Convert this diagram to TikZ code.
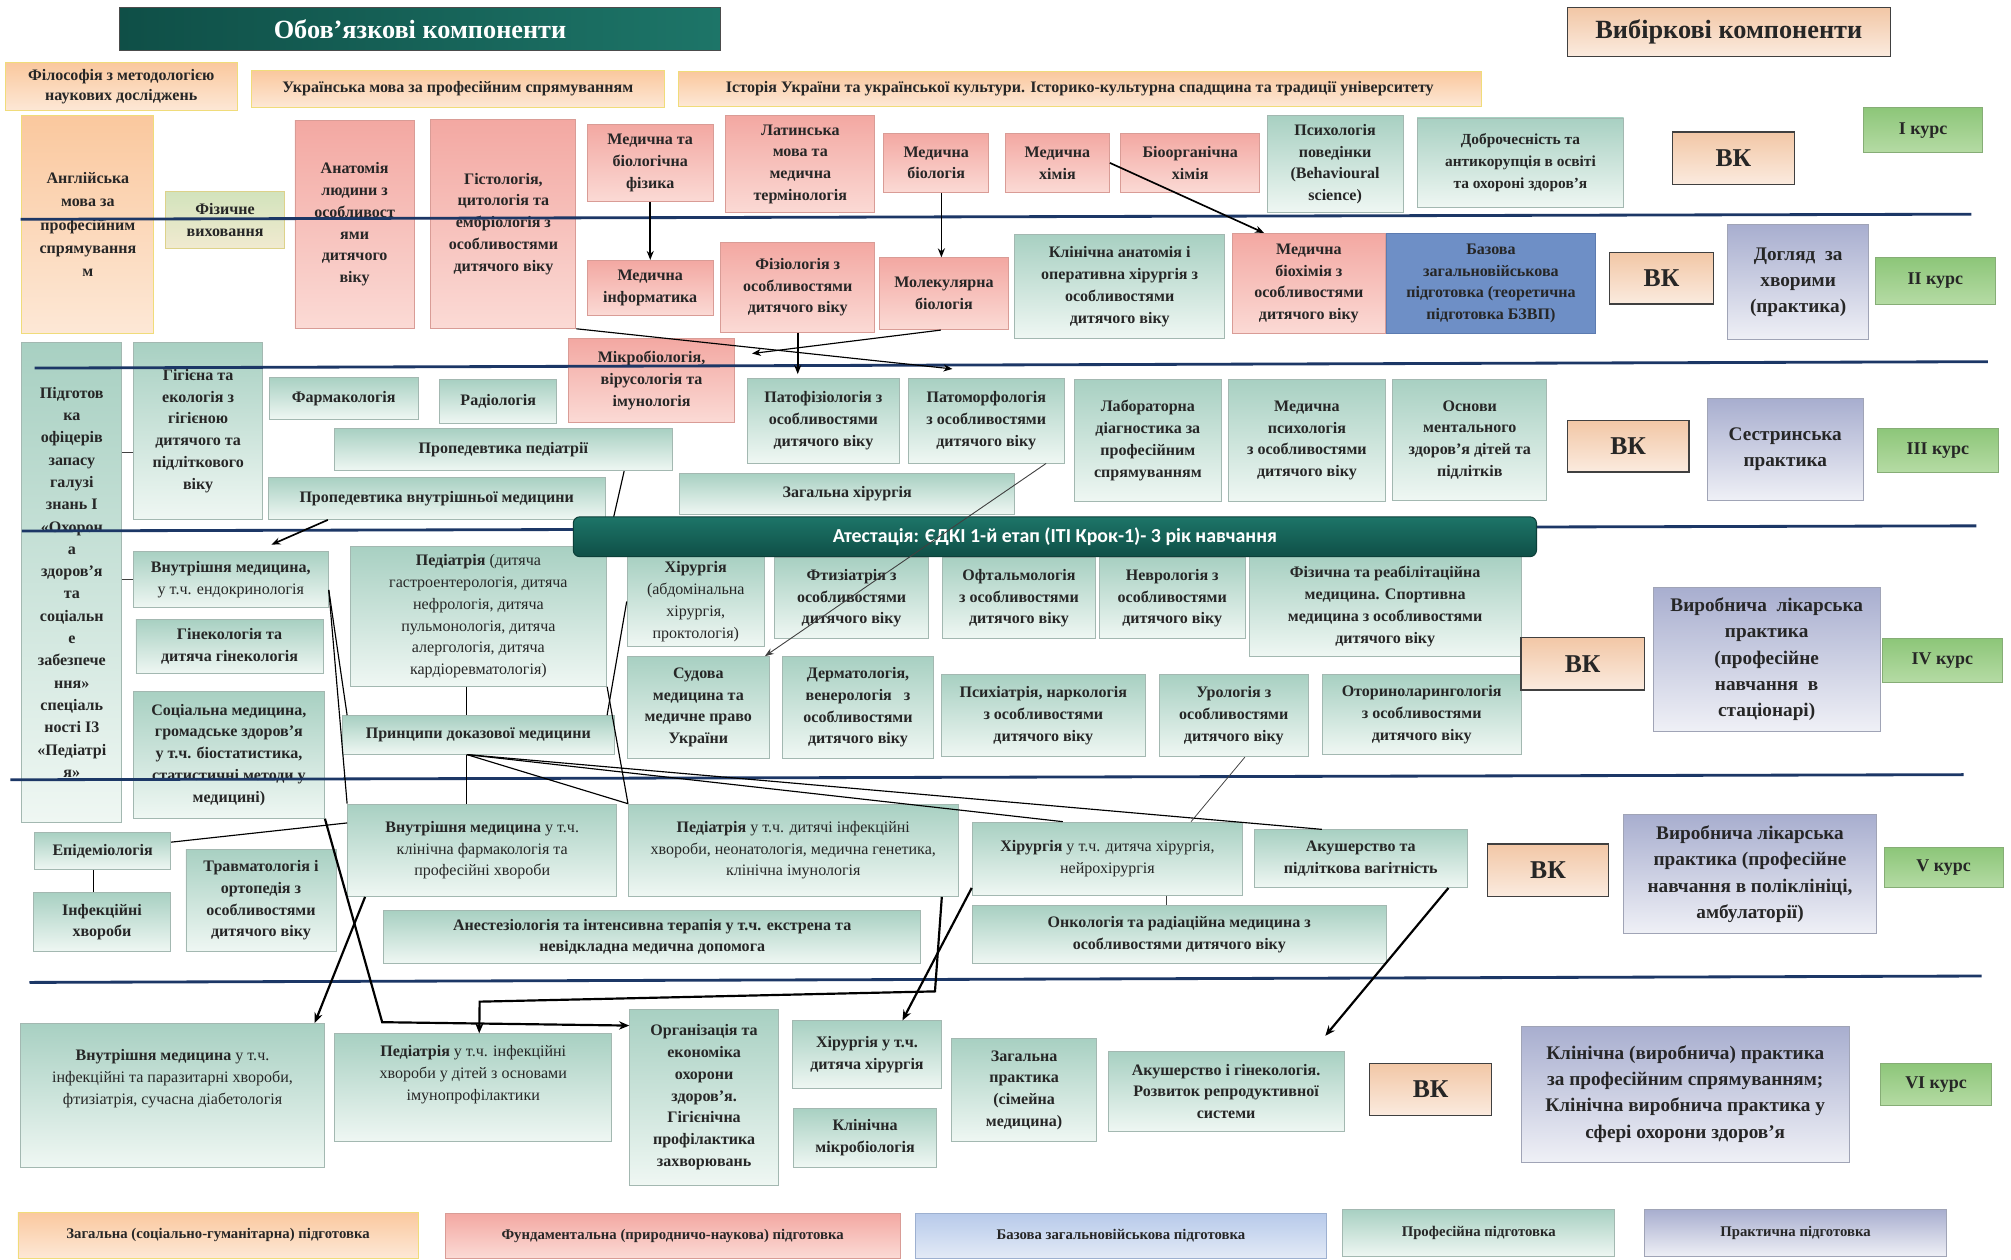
\documentclass[tikz,border=0pt]{standalone}
\usepackage{fontspec}
\setmainfont{Liberation Serif}
\newfontfamily\banfont{Carlito}
\usetikzlibrary{arrows.meta,calc}
\definecolor{txt}{HTML}{262626}
\definecolor{orT}{HTML}{FAC89E}
\definecolor{orB}{HTML}{FDE8D6}
\definecolor{orD}{HTML}{F0DC7A}
\definecolor{pkT}{HTML}{F3A8A2}
\definecolor{pkB}{HTML}{FBDAD5}
\definecolor{pkD}{HTML}{D99C96}
\definecolor{tlT}{HTML}{A8D0C2}
\definecolor{tlB}{HTML}{EFF7F3}
\definecolor{tlD}{HTML}{A3B8B1}
\definecolor{blM}{HTML}{6E8FC6}
\definecolor{blD}{HTML}{5C7BB0}
\definecolor{blT}{HTML}{B7CAEA}
\definecolor{blB}{HTML}{E3EAF6}
\definecolor{lvT}{HTML}{A8AECF}
\definecolor{lvB}{HTML}{EFF0F6}
\definecolor{lvD}{HTML}{A0A4B6}
\definecolor{grT}{HTML}{8DC679}
\definecolor{grB}{HTML}{B5DBA4}
\definecolor{grD}{HTML}{86AD76}
\definecolor{vkT}{HTML}{F2C7A6}
\definecolor{vkB}{HTML}{FBEBDF}
\definecolor{fzT}{HTML}{D2E3BC}
\definecolor{fzB}{HTML}{F1EAD0}
\definecolor{fzD}{HTML}{DDD28A}
\definecolor{tealL}{HTML}{0F4F47}
\definecolor{tealR}{HTML}{1D7568}
\definecolor{navy}{HTML}{1C3766}
\begin{document}
\begin{tikzpicture}[x=1pt,y=-1pt,
  bx/.style={draw, line width=0.7pt, align=center, inner sep=1pt, text=txt,
    font=\bfseries\fontsize{12.5}{17}\selectfont},
  md/.style={font=\mdseries\fontsize{12.5}{17}\selectfont},
  gen/.style={bx, top color=orT, bottom color=orB, draw=orD},
  fund/.style={bx, top color=pkT, bottom color=pkB, draw=pkD},
  prof/.style={bx, top color=tlT, bottom color=tlB, draw=tlD},
  mil/.style={bx, fill=blM, draw=blD},
  milL/.style={bx, top color=blT, bottom color=blB, draw=blD!60},
  prac/.style={bx, top color=lvT, bottom color=lvB, draw=lvD, font=\bfseries\fontsize{15}{20.5}\selectfont},
  crs/.style={bx, top color=grT, bottom color=grB, draw=grD, font=\bfseries\fontsize{14}{17}\selectfont},
  vkbox/.style={bx, top color=vkT, bottom color=vkB, draw=black!75, line width=1pt, font=\bfseries\fontsize{20}{24}\selectfont},
  fzbox/.style={bx, top color=fzT, bottom color=fzB, draw=fzD},
  lgd/.style={font=\bfseries\fontsize{11.5}{14}\selectfont},
  geom/.style n args={4}{minimum width={(#3-#1)*1pt}, minimum height={(#4-#2)*1pt},
    at={({(#1+#3)/2},{(#2+#4)/2})}},
  ln/.style={draw=black, line width=0.9pt},
  arr/.style={draw=black, line width=1.3pt, -{Stealth[length=7pt,width=5.5pt]}},
  arrthin/.style={draw=black, line width=0.9pt, -{Stealth[length=7pt,width=5.5pt]}},
  tharr/.style={draw=black, line width=1.7pt, -{Stealth[length=8pt,width=6.5pt]}},
  thn/.style={draw=black!75, line width=0.6pt},
  thnarr/.style={draw=black!75, line width=0.7pt, -{Stealth[length=7pt,width=5pt]}},
  yearline/.style={draw=navy, line width=2.2pt}
]
\fill[white] (0,0) rectangle (1568,982);
\useasboundingbox (0,0) rectangle (1568,982);

% ---- header
\node[bx, left color=tealL, right color=tealR, draw=black!70, text=white,
  font=\bfseries\fontsize{20.5}{23}\selectfont, geom={93}{6}{562}{39}] (ttl) {Обов’язкові компоненти};
\node[vkbox, geom={1222}{6}{1474}{44}, line width=0.8pt, font=\bfseries\fontsize{20.5}{23}\selectfont] (sel) {Вибіркові компоненти};

% ---- row 0
\node[gen, geom={4}{49}{185}{86}, font=\bfseries\fontsize{12.5}{15}\selectfont] (phil) {Філософія з методологією\\наукових досліджень};
\node[gen, geom={196}{55}{518}{84}] (ukr) {Українська мова за професійним спрямуванням};
\node[gen, geom={529}{56}{1155}{83}] (histu) {Історія України та української культури. Історико-культурна спадщина та традиції університету};

% ---- course I
\node[gen, geom={17}{90}{120}{260}, font=\bfseries\fontsize{12.5}{18}\selectfont] (eng) {Англійська\\мова за\\професійним\\спрямування\\м};
\node[fzbox, geom={129}{149}{222}{194}] (phys) {Фізичне\\виховання};
\node[fund, geom={230}{94}{323}{256}] (anat) {Анатомія\\людини з\\особливост\\ями\\дитячого\\віку};
\node[fund, geom={336}{93}{449}{256}] (histol) {Гістологія,\\цитологія та\\ембріологія з\\особливостями\\дитячого віку};
\node[fund, geom={458}{97}{556}{157}] (mbf) {Медична та\\біологічна\\фізика};
\node[fund, geom={566}{90}{682}{166}] (lat) {Латинська\\мова та\\медична\\термінологія};
\node[fund, geom={689}{104}{771}{150}] (mbio) {Медична\\біологія};
\node[fund, geom={784}{104}{865}{150}] (mchem) {Медична\\хімія};
\node[fund, geom={874}{104}{982}{150}] (bioorg) {Біоорганічна\\хімія};
\node[prof, geom={988}{90}{1094}{166}] (psy) {Психологія\\поведінки\\(Behavioural\\science)};
\node[prof, geom={1105}{92}{1266}{162}, font=\bfseries\fontsize{12}{17}\selectfont] (integ) {Доброчесність та\\антикорупція в освіті\\та охороні здоров'я};
\node[vkbox, geom={1304}{103}{1399}{144}] (vk1) {ВК};
\node[crs, geom={1453}{84}{1546}{119}] (k1) {І курс};

% ---- course II
\node[fund, geom={458}{203}{556}{246}] (minf) {Медична\\інформатика};
\node[fund, geom={562}{189}{682}{259}] (fiz) {Фізіологія з\\особливостями\\дитячого віку};
\node[fund, geom={686}{201}{786}{257}] (molb) {Молекулярна\\біологія};
\node[prof, geom={791}{183}{955}{264}] (klan) {Клінічна анатомія і\\оперативна хірургія з\\особливостями\\дитячого віку};
\node[fund, geom={961}{182}{1080}{260}] (mbch) {Медична\\біохімія з\\особливостями\\дитячого віку};
\node[mil, geom={1081}{182}{1244}{260}] (bzvp) {Базова\\загальновійськова\\підготовка (теоретична\\підготовка БЗВП)};
\node[vkbox, geom={1255}{197}{1336}{237}] (vk2) {ВК};
\node[prac, geom={1347}{175}{1457}{265}] (dogl) {Догляд~~за\\хворими\\(практика)};
\node[crs, geom={1462}{201}{1556}{237}] (k2) {ІІ курс};

% ---- course III
\node[prof, geom={17}{267}{95}{641}, font=\bfseries\fontsize{12.5}{17.4}\selectfont] (ofic) {Підготов\\ка\\офіцерів\\запасу\\галузі\\знань І\\«Охорон\\а\\здоров'я\\та\\соціальн\\е\\забезпече\\ння»\\спеціаль\\ності І3\\«Педіатрі\\я»};
\node[prof, geom={104}{267}{205}{405}] (hyg) {Гігієна та\\екологія з\\гігієною\\дитячого та\\підліткового\\віку};
\node[prof, geom={210}{294}{326}{327}] (pharm) {Фармакологія};
\node[prof, geom={343}{296}{434}{330}] (radio) {Радіологія};
\node[fund, geom={443}{264}{573}{329}] (micro) {Мікробіологія,\\вірусологія та\\імунологія};
\node[prof, geom={261}{334}{524}{367}] (propp) {Пропедевтика педіатрії};
\node[prof, geom={209}{372}{472}{405}] (propv) {Пропедевтика внутрішньої медицини};
\node[prof, geom={530}{369}{791}{401}] (gsurg) {Загальна хірургія};
\node[prof, geom={583}{295}{701}{361}] (patf) {Патофізіологія з\\особливостями\\дитячого віку};
\node[prof, geom={708}{295}{830}{361}] (patm) {Патоморфологія\\з особливостями\\дитячого віку};
\node[prof, geom={838}{296}{952}{391}] (lab) {Лабораторна\\діагностика за\\професійним\\спрямуванням};
\node[prof, geom={958}{296}{1080}{391}] (mpsy) {Медична\\психологія\\з особливостями\\дитячого віку};
\node[prof, geom={1086}{296}{1206}{390}] (ment) {Основи\\ментального\\здоров'я дітей та\\підлітків};
\node[vkbox, geom={1222}{328}{1317}{368}] (vk3) {ВК};
\node[prac, geom={1331}{311}{1453}{390}] (sest) {Сестринська\\практика};
\node[crs, geom={1464}{334}{1558}{368}] (k3) {ІІІ курс};

% ---- course IV
\node[prof, geom={104}{430}{256}{474}] (endo) {Внутрішня медицина,\\{\mdseries у т.ч. ендокринологія}};
\node[prof, geom={106}{483}{252}{525}] (gyn) {Гінекологія та\\дитяча гінекологія};
\node[prof, geom={104}{539}{253}{638}] (soc) {Соціальна медицина,\\громадське здоров'я\\у т.ч. біостатистика,\\статистичні методи у\\медицині)};
\node[prof, md, geom={273}{426}{473}{535}] (ped) {{\bfseries Педіатрія} (дитяча\\гастроентерологія, дитяча\\нефрологія, дитяча\\пульмонологія, дитяча\\алергологія, дитяча\\кардіоревматологія)};
\node[prof, md, geom={489}{434}{596}{504}] (surga) {{\bfseries Хірургія}\\(абдомінальна\\хірургія,\\проктологія)};
\node[prof, geom={604}{435}{724}{498}] (ftiz) {Фтизіатрія з\\особливостями\\дитячого віку};
\node[prof, geom={735}{435}{854}{498}] (oft) {Офтальмологія\\з особливостями\\дитячого віку};
\node[prof, geom={857}{435}{971}{498}] (nevr) {Неврологія з\\особливостями\\дитячого віку};
\node[prof, geom={974}{434}{1186}{512}] (fizr) {Фізична та реабілітаційна\\медицина. Спортивна\\медицина з особливостями\\дитячого віку};
\node[prof, geom={489}{512}{600}{591}] (sud) {Судова\\медицина та\\медичне право\\України};
\node[prof, geom={610}{512}{728}{591}] (derm) {Дерматологія,\\венерологія~~~з\\особливостями\\дитячого віку};
\node[prof, geom={734}{526}{893}{590}] (psych) {Психіатрія, наркологія\\з особливостями\\дитячого віку};
\node[prof, geom={904}{526}{1020}{590}] (uro) {Урологія з\\особливостями\\дитячого віку};
\node[prof, geom={1031}{526}{1186}{588}] (oto) {Оториноларингологія\\з особливостями\\дитячого віку};
\node[prof, geom={267}{558}{479}{588}] (princ) {Принципи доказової медицини};
\node[vkbox, geom={1186}{497}{1282}{538}] (vk4) {ВК};
\node[prac, geom={1289}{458}{1466}{570}] (vyr4) {Виробнича~~лікарська\\практика\\(професійне\\навчання~~в\\стаціонарі)};
\node[crs, geom={1468}{498}{1561}{532}] (k4) {IV курс};

% ---- course V
\node[prof, geom={27}{649}{133}{678}] (epi) {Епідеміологія};
\node[prof, geom={26}{696}{133}{742}] (inf) {Інфекційні\\хвороби};
\node[prof, geom={145}{662}{262}{742}] (trav) {Травматологія і\\ортопедія з\\особливостями\\дитячого віку};
\node[prof, md, geom={271}{627}{481}{699}] (vmv) {{\bfseries Внутрішня медицина} у т.ч.\\клінічна фармакологія та\\професійні хвороби};
\node[prof, md, geom={490}{627}{747}{699}] (pedv) {{\bfseries Педіатрія} у т.ч. дитячі інфекційні\\хвороби, неонатологія, медична генетика,\\клінічна імунологія};
\node[prof, md, geom={758}{641}{969}{698}] (surgv) {{\bfseries Хірургія} у т.ч. дитяча хірургія,\\нейрохірургія};
\node[prof, geom={978}{647}{1144}{692}] (akv) {Акушерство та\\підліткова вагітність};
\node[prof, geom={299}{710}{718}{751}] (anest) {Анестезіологія та інтенсивна терапія у т.ч. екстрена та\\невідкладна медична допомога};
\node[prof, geom={758}{706}{1081}{751}] (onco) {Онкологія та радіаційна медицина з\\особливостями дитячого віку};
\node[vkbox, geom={1160}{658}{1254}{699}] (vk5) {ВК};
\node[prac, geom={1266}{635}{1463}{728}] (vyr5) {Виробнича лікарська\\практика (професійне\\навчання в поліклініці,\\амбулаторії)};
\node[crs, geom={1469}{661}{1562}{692}] (k5) {V курс};

% ---- course VI
\node[prof, md, geom={16}{798}{253}{910}] (vmvi) {{\bfseries Внутрішня медицина} у т.ч.\\інфекційні та паразитарні хвороби,\\фтизіатрія, сучасна діабетологія\\[12pt]};
\node[prof, md, geom={261}{806}{477}{890}] (pedvi) {{\bfseries Педіатрія} у т.ч. інфекційні\\хвороби у дітей з основами\\імунопрофілактики\\[6pt]};
\node[prof, geom={491}{787}{607}{924}] (org) {Організація та\\економіка\\охорони\\здоров’я.\\Гігієнічна\\профілактика\\захворювань};
\node[prof, geom={618}{796}{734}{849}] (surgvi) {Хірургія у т.ч.\\дитяча хірургія};
\node[prof, geom={619}{864}{730}{910}] (kmik) {Клінічна\\мікробіологія};
\node[prof, geom={742}{810}{855}{890}] (gp) {Загальна\\практика\\(сімейна\\медицина)};
\node[prof, geom={864}{820}{1048}{882}] (akvi) {Акушерство і гінекологія.\\Розвиток репродуктивної\\системи};
\node[vkbox, geom={1068}{829}{1163}{870}] (vk6) {ВК};
\node[prac, geom={1186}{800}{1442}{906}] (klp) {Клінічна (виробнича) практика\\за професійним спрямуванням;\\Клінічна виробнича практика у\\сфері охорони здоров’я};
\node[crs, geom={1466}{829}{1553}{862}] (k6) {VI курс};

% ---- legend
\node[gen, lgd, geom={14}{945}{326}{981}] (lg1) {Загальна (соціально-гуманітарна) підготовка};
\node[fund, lgd, geom={347}{946}{702}{981}] (lg2) {Фундаментальна (природничо-наукова) підготовка};
\node[milL, lgd, geom={714}{946}{1034}{981}] (lg3) {Базова загальновійськова підготовка};
\node[prof, lgd, geom={1047}{943}{1259}{980}] (lg4) {Професійна підготовка};
\node[prac, lgd, geom={1282}{943}{1518}{980}] (lg5) {Практична підготовка};

% ---- year separator lines
\coordinate (l1a) at (16,171);  \coordinate (l1b) at (1537,167);
\coordinate (l2a) at (27,287);  \coordinate (l2b) at (1550,282);
\coordinate (l3a) at (17,414);  \coordinate (l3b) at (1541,410);
\coordinate (l4a) at (8,608);   \coordinate (l4b) at (1531,604);
\coordinate (l5a) at (23,766);  \coordinate (l5b) at (1545,761);
\draw[yearline] (l1a) -- (l1b);
\draw[yearline] (l2a) -- (l2b);
\draw[yearline] (l3a) -- (l3b);
\draw[yearline] (l4a) -- (l4b);
\draw[yearline] (l5a) -- (l5b);

% connector hidden partly by the banner
\draw[ln] ([xshift=226pt]propp.south west) -- (ped.north east);

% ---- attestation banner
\node[draw=tealL!80!black, line width=0.8pt, rounded corners=5pt, top color=tealR, bottom color=tealL,
  text=white, font=\banfont\bfseries\fontsize{15.5}{18}\selectfont, geom={447}{403}{1198}{434}] (ban)
  {Атестація: ЄДКІ 1-й етап (ІТІ Крок-1)- 3 рік навчання};

% ---- connectors
\draw[arr] (mbf.south) -- (minf.north);
\draw[arr] ([xshift=4pt]mbio.south) -- ([xshift=-2pt]molb.north);
\draw[arr] (mchem.east) -- ([xshift=25pt]mbch.north west);
\draw[arrthin] (histol.south east) -- ([xshift=35pt,yshift=7pt]patm.north west);
\draw[arrthin] ([xshift=48pt]molb.south west) -- ([xshift=13pt,yshift=-12pt]micro.north east);
\draw[arr] (fiz.south) -- ([xshift=-20pt,yshift=3pt]patf.north);
\draw[arr] ([xshift=47pt]propv.south west) -- ([xshift=108pt,yshift=5pt]endo.north west);
\draw[thnarr] ([xshift=108pt]patm.south west) -- ([xshift=-4pt]sud.north east);

\draw[thn] ($(hyg.west)+(0,17)$) -- (ofic.east |- {$(hyg.west)+(0,17)$});
\draw[thn] (endo.west) -- (endo.west -| ofic.east);

\draw[ln] ([yshift=-8pt]endo.east) -- ([xshift=4pt]princ.north west);
\draw[ln] ([yshift=-8pt]endo.east) -- (vmv.north west);
\draw[ln] (surga.west) -- ([xshift=-6pt]princ.north east);
\draw[ln] (ped.south east) -- (pedv.north west);
\draw[ln] ([xshift=-9pt]ped.south) -- ([xshift=-9pt]princ.north);
\draw[ln] ([xshift=-9pt]princ.south) -- ([xshift=-12pt]vmv.north);
\draw[ln] ([xshift=-9pt]princ.south) -- (pedv.north west);
\draw[ln] ([xshift=-9pt]princ.south) -- ([xshift=71pt]surgv.north west);
\draw[ln] ([xshift=-9pt]princ.south) -- ([xshift=53pt]akv.north west);
\draw[thn] ([xshift=67pt]uro.south west) -- ([xshift=171pt]surgv.north west);
\draw[thn] ([xshift=46pt]surgv.south) -- ([xshift=-10pt]onco.north);
\draw[ln] ([yshift=-8pt]epi.north east) -- ([yshift=-15pt]vmv.north west);
\draw[ln] ([xshift=-7pt]epi.south) -- ([xshift=-6.5pt]inf.north);

\coordinate (b1) at (729,773);
\coordinate (b2) at (374,781);
\coordinate (b3) at (298,797);
\draw[tharr] ([yshift=6pt]surgv.south west) -- ([xshift=86pt]surgvi.north west);
\draw[tharr] ([xshift=-13pt]pedv.south east) -- (b1) -- (b2) -- ([xshift=113pt]pedvi.north west);
\draw[tharr] (soc.south east) -- (b3) -- ([yshift=-13pt]org.north west);
\draw[tharr] ([xshift=14pt]vmv.south west) -- ([xshift=-8pt]vmvi.north east);
\draw[tharr] ([xshift=-15pt]akv.south east) -- ([xshift=-15pt,yshift=12pt]akvi.north east);
\end{tikzpicture}
\end{document}
